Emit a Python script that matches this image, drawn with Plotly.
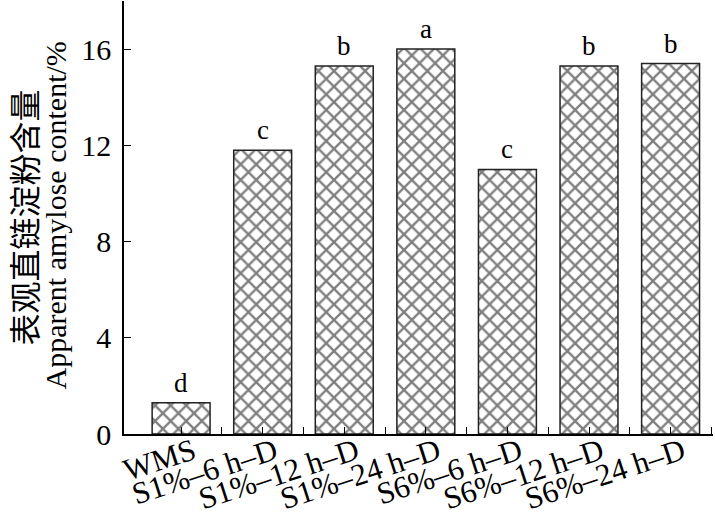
import plotly.graph_objects as go

categories = ["WMS", "S1%–6 h–D", "S1%–12 h–D", "S1%–24 h–D",
              "S6%–6 h–D", "S6%–12 h–D", "S6%–24 h–D"]
values = [1.3, 11.8, 15.3, 16.0, 11.0, 15.3, 15.4]
letters = ["d", "c", "b", "a", "c", "b", "b"]
y_ticks = [0, 4, 8, 12, 16, 18]
y_ticktext = ["0", "4", "8", "12", "16", ""]

idx = list(range(len(categories)))
bounds = [i + 0.5 for i in idx]
serif = "Liberation Serif, Times New Roman, serif"

fig = go.Figure()
fig.add_trace(go.Bar(
    x=idx, y=values, width=0.71,
    marker=dict(color="white",
                line=dict(color="#222", width=1.5),
                pattern=dict(shape="x", fgcolor="black", bgcolor="white",
                             size=11, solidity=0.38)),
    hoverinfo="skip",
))

annotations = [
    dict(x=i, y=v, text=t, xref="x", yref="y", showarrow=False,
         xanchor="center", yanchor="bottom", yshift=3,
         font=dict(family=serif, size=27, color="black"))
    for i, v, t in zip(idx, values, letters)
]
annotations += [
    dict(text="表观直链淀粉含量", xref="paper", yref="paper",
         x=-0.173, y=0.5, xanchor="center", yanchor="middle",
         textangle=-90, showarrow=False,
         font=dict(family="Noto Sans CJK SC", size=32, color="black")),
    dict(text="Apparent amylose content/%", xref="paper", yref="paper",
         x=-0.117, y=0.505, xanchor="center", yanchor="middle",
         textangle=-90, showarrow=False,
         font=dict(family=serif, size=30, color="black")),
]

fig.update_layout(
    width=715, height=519,
    margin=dict(l=124, r=2, t=1, b=85, autoexpand=False),
    paper_bgcolor="white", plot_bgcolor="white",
    showlegend=False, bargap=0.29,
    font=dict(family=serif, size=28, color="black"),
    xaxis=dict(range=[-0.7, 6.52], tickvals=idx, ticktext=categories,
               tickangle=-18, ticks="inside", ticklen=7, tickwidth=1.2,
               tickcolor="black", automargin=False,
               ticklabelstandoff=-14, ticklabelshift=12,
               showline=True, linecolor="black",
               linewidth=1.5, showgrid=False, zeroline=False,
               tickfont=dict(family=serif, size=31),
               minor=dict(tickvals=bounds, ticks="inside", ticklen=7,
                          tickcolor="black", tickwidth=1.2, showgrid=False)),
    yaxis=dict(range=[0, 18], tickvals=y_ticks, ticktext=y_ticktext,
               ticks="inside", ticklen=7, tickwidth=1.2, tickcolor="black",
               ticklabelstandoff=5,
               showline=True, linecolor="black", linewidth=1.5,
               showgrid=False, zeroline=False, automargin=False,
               tickfont=dict(family=serif, size=30)),
    annotations=annotations,
)

fig.write_html("out.html", config={"displayModeBar": False},
               post_script="document.body.style.margin='0';")
